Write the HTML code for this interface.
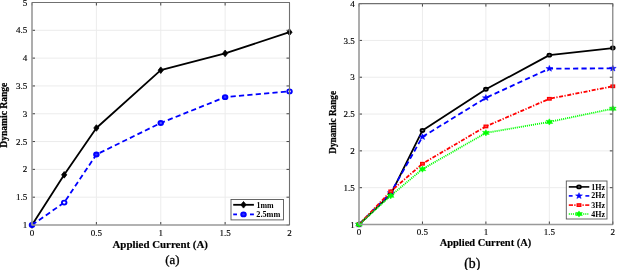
<!DOCTYPE html><html><head><meta charset="utf-8"><style>html,body{margin:0;padding:0;background:#fff;}svg{display:block;will-change:transform;}</style></head><body>
<svg width="617" height="270" viewBox="0 0 617 270" font-family='"Liberation Serif", serif' fill="#000">
<rect width="617" height="270" fill="#fff"/>
<line x1="96.38" y1="2.50" x2="96.38" y2="225.00" stroke="#ececec" stroke-width="1"/>
<line x1="160.75" y1="2.50" x2="160.75" y2="225.00" stroke="#ececec" stroke-width="1"/>
<line x1="225.12" y1="2.50" x2="225.12" y2="225.00" stroke="#ececec" stroke-width="1"/>
<line x1="32.00" y1="197.19" x2="289.50" y2="197.19" stroke="#ececec" stroke-width="1"/>
<line x1="32.00" y1="169.38" x2="289.50" y2="169.38" stroke="#ececec" stroke-width="1"/>
<line x1="32.00" y1="141.56" x2="289.50" y2="141.56" stroke="#ececec" stroke-width="1"/>
<line x1="32.00" y1="113.75" x2="289.50" y2="113.75" stroke="#ececec" stroke-width="1"/>
<line x1="32.00" y1="85.94" x2="289.50" y2="85.94" stroke="#ececec" stroke-width="1"/>
<line x1="32.00" y1="58.12" x2="289.50" y2="58.12" stroke="#ececec" stroke-width="1"/>
<line x1="32.00" y1="30.31" x2="289.50" y2="30.31" stroke="#ececec" stroke-width="1"/>
<polyline points="32.00,225.00 64.19,174.83 96.38,127.99 160.75,70.20 225.12,53.40 289.50,32.20" fill="none" stroke="#000" stroke-width="1.8" stroke-linejoin="round"/>
<polyline points="32.00,225.00 64.19,202.58 96.38,154.52 160.75,122.98 225.12,97.17 289.50,91.39" fill="none" stroke="#00f" stroke-width="1.8" stroke-linejoin="round" stroke-dasharray="5.2 3.2"/>
<path d="M32.00,221.70 L34.60,225.00 L32.00,228.30 L29.40,225.00 Z" fill="#000" stroke="#000" stroke-width="0.8"/>
<path d="M64.19,171.53 L66.79,174.83 L64.19,178.13 L61.59,174.83 Z" fill="#000" stroke="#000" stroke-width="0.8"/>
<path d="M96.38,124.69 L98.97,127.99 L96.38,131.29 L93.78,127.99 Z" fill="#000" stroke="#000" stroke-width="0.8"/>
<path d="M160.75,66.90 L163.35,70.20 L160.75,73.50 L158.15,70.20 Z" fill="#000" stroke="#000" stroke-width="0.8"/>
<path d="M225.12,50.10 L227.72,53.40 L225.12,56.70 L222.53,53.40 Z" fill="#000" stroke="#000" stroke-width="0.8"/>
<path d="M289.50,28.90 L292.10,32.20 L289.50,35.50 L286.90,32.20 Z" fill="#000" stroke="#000" stroke-width="0.8"/>
<ellipse cx="32.00" cy="225.00" rx="2.3" ry="2.0" fill="#44f" stroke="#00f" stroke-width="1.9"/>
<ellipse cx="64.19" cy="202.58" rx="2.3" ry="2.0" fill="#fff" stroke="#00f" stroke-width="1.9"/>
<ellipse cx="96.38" cy="154.52" rx="2.3" ry="2.0" fill="#33f" stroke="#00f" stroke-width="1.9"/>
<ellipse cx="160.75" cy="122.98" rx="2.3" ry="2.0" fill="#55f" stroke="#00f" stroke-width="1.9"/>
<ellipse cx="225.12" cy="97.17" rx="2.3" ry="2.0" fill="#33f" stroke="#00f" stroke-width="1.9"/>
<ellipse cx="289.50" cy="91.39" rx="2.3" ry="2.0" fill="#fff" stroke="#00f" stroke-width="1.9"/>
<line x1="32.00" y1="225.00" x2="32.00" y2="222.00" stroke="#444" stroke-width="1"/>
<line x1="32.00" y1="2.50" x2="32.00" y2="5.50" stroke="#444" stroke-width="1"/>
<line x1="96.38" y1="225.00" x2="96.38" y2="222.00" stroke="#444" stroke-width="1"/>
<line x1="96.38" y1="2.50" x2="96.38" y2="5.50" stroke="#444" stroke-width="1"/>
<line x1="160.75" y1="225.00" x2="160.75" y2="222.00" stroke="#444" stroke-width="1"/>
<line x1="160.75" y1="2.50" x2="160.75" y2="5.50" stroke="#444" stroke-width="1"/>
<line x1="225.12" y1="225.00" x2="225.12" y2="222.00" stroke="#444" stroke-width="1"/>
<line x1="225.12" y1="2.50" x2="225.12" y2="5.50" stroke="#444" stroke-width="1"/>
<line x1="289.50" y1="225.00" x2="289.50" y2="222.00" stroke="#444" stroke-width="1"/>
<line x1="289.50" y1="2.50" x2="289.50" y2="5.50" stroke="#444" stroke-width="1"/>
<line x1="32.00" y1="225.00" x2="35.00" y2="225.00" stroke="#444" stroke-width="1"/>
<line x1="289.50" y1="225.00" x2="286.50" y2="225.00" stroke="#444" stroke-width="1"/>
<line x1="32.00" y1="197.19" x2="35.00" y2="197.19" stroke="#444" stroke-width="1"/>
<line x1="289.50" y1="197.19" x2="286.50" y2="197.19" stroke="#444" stroke-width="1"/>
<line x1="32.00" y1="169.38" x2="35.00" y2="169.38" stroke="#444" stroke-width="1"/>
<line x1="289.50" y1="169.38" x2="286.50" y2="169.38" stroke="#444" stroke-width="1"/>
<line x1="32.00" y1="141.56" x2="35.00" y2="141.56" stroke="#444" stroke-width="1"/>
<line x1="289.50" y1="141.56" x2="286.50" y2="141.56" stroke="#444" stroke-width="1"/>
<line x1="32.00" y1="113.75" x2="35.00" y2="113.75" stroke="#444" stroke-width="1"/>
<line x1="289.50" y1="113.75" x2="286.50" y2="113.75" stroke="#444" stroke-width="1"/>
<line x1="32.00" y1="85.94" x2="35.00" y2="85.94" stroke="#444" stroke-width="1"/>
<line x1="289.50" y1="85.94" x2="286.50" y2="85.94" stroke="#444" stroke-width="1"/>
<line x1="32.00" y1="58.12" x2="35.00" y2="58.12" stroke="#444" stroke-width="1"/>
<line x1="289.50" y1="58.12" x2="286.50" y2="58.12" stroke="#444" stroke-width="1"/>
<line x1="32.00" y1="30.31" x2="35.00" y2="30.31" stroke="#444" stroke-width="1"/>
<line x1="289.50" y1="30.31" x2="286.50" y2="30.31" stroke="#444" stroke-width="1"/>
<line x1="32.00" y1="2.50" x2="35.00" y2="2.50" stroke="#444" stroke-width="1"/>
<line x1="289.50" y1="2.50" x2="286.50" y2="2.50" stroke="#444" stroke-width="1"/>
<line x1="32.00" y1="2.50" x2="32.00" y2="225.00" stroke="#999999" stroke-width="1.6"/>
<line x1="32.00" y1="225.00" x2="289.50" y2="225.00" stroke="#999999" stroke-width="1.6"/>
<line x1="32.00" y1="2.50" x2="289.50" y2="2.50" stroke="#707070" stroke-width="1.1"/>
<line x1="289.50" y1="2.50" x2="289.50" y2="225.00" stroke="#707070" stroke-width="1.1"/>
<text x="27.30" y="228.10" text-anchor="end" font-size="9" stroke="#000" stroke-width="0.15">1</text>
<text x="27.30" y="200.29" text-anchor="end" font-size="9" stroke="#000" stroke-width="0.15">1.5</text>
<text x="27.30" y="172.47" text-anchor="end" font-size="9" stroke="#000" stroke-width="0.15">2</text>
<text x="27.30" y="144.66" text-anchor="end" font-size="9" stroke="#000" stroke-width="0.15">2.5</text>
<text x="27.30" y="116.85" text-anchor="end" font-size="9" stroke="#000" stroke-width="0.15">3</text>
<text x="27.30" y="89.04" text-anchor="end" font-size="9" stroke="#000" stroke-width="0.15">3.5</text>
<text x="27.30" y="61.23" text-anchor="end" font-size="9" stroke="#000" stroke-width="0.15">4</text>
<text x="27.30" y="33.41" text-anchor="end" font-size="9" stroke="#000" stroke-width="0.15">4.5</text>
<text x="27.30" y="5.60" text-anchor="end" font-size="9" stroke="#000" stroke-width="0.15">5</text>
<text x="32.00" y="236.20" text-anchor="middle" font-size="9" stroke="#000" stroke-width="0.15">0</text>
<text x="96.38" y="236.20" text-anchor="middle" font-size="9" stroke="#000" stroke-width="0.15">0.5</text>
<text x="160.75" y="236.20" text-anchor="middle" font-size="9" stroke="#000" stroke-width="0.15">1</text>
<text x="225.12" y="236.20" text-anchor="middle" font-size="9" stroke="#000" stroke-width="0.15">1.5</text>
<text x="289.50" y="236.20" text-anchor="middle" font-size="9" stroke="#000" stroke-width="0.15">2</text>
<line x1="422.45" y1="3.60" x2="422.45" y2="224.50" stroke="#ececec" stroke-width="1"/>
<line x1="485.90" y1="3.60" x2="485.90" y2="224.50" stroke="#ececec" stroke-width="1"/>
<line x1="549.35" y1="3.60" x2="549.35" y2="224.50" stroke="#ececec" stroke-width="1"/>
<line x1="359.00" y1="187.68" x2="612.80" y2="187.68" stroke="#ececec" stroke-width="1"/>
<line x1="359.00" y1="150.87" x2="612.80" y2="150.87" stroke="#ececec" stroke-width="1"/>
<line x1="359.00" y1="114.05" x2="612.80" y2="114.05" stroke="#ececec" stroke-width="1"/>
<line x1="359.00" y1="77.23" x2="612.80" y2="77.23" stroke="#ececec" stroke-width="1"/>
<line x1="359.00" y1="40.42" x2="612.80" y2="40.42" stroke="#ececec" stroke-width="1"/>
<polyline points="359.00,224.50 390.73,194.31 422.45,130.47 485.90,89.31 549.35,55.14 612.80,48.07" fill="none" stroke="#000" stroke-width="1.8" stroke-linejoin="round"/>
<polyline points="359.00,224.50 390.73,192.84 422.45,136.88 485.90,97.85 549.35,68.62 612.80,68.40" fill="none" stroke="#00f" stroke-width="1.8" stroke-linejoin="round" stroke-dasharray="5.2 3.2"/>
<polyline points="359.00,224.50 390.73,191.37 422.45,163.75 485.90,126.42 549.35,98.81 612.80,86.29" fill="none" stroke="#f00" stroke-width="1.8" stroke-linejoin="round" stroke-dasharray="4 1.5 1.2 1.6"/>
<polyline points="359.00,224.50 390.73,195.78 422.45,169.13 485.90,132.90 549.35,121.93 612.80,108.67" fill="none" stroke="#0f0" stroke-width="1.8" stroke-linejoin="round" stroke-dasharray="1.1 0.95"/>
<ellipse cx="359.00" cy="224.50" rx="1.95" ry="1.55" fill="#777" stroke="#000" stroke-width="1.8"/>
<ellipse cx="390.73" cy="194.31" rx="1.95" ry="1.55" fill="#777" stroke="#000" stroke-width="1.8"/>
<ellipse cx="422.45" cy="130.47" rx="1.95" ry="1.55" fill="#777" stroke="#000" stroke-width="1.8"/>
<ellipse cx="485.90" cy="89.31" rx="1.95" ry="1.55" fill="#777" stroke="#000" stroke-width="1.8"/>
<ellipse cx="549.35" cy="55.14" rx="1.95" ry="1.55" fill="#777" stroke="#000" stroke-width="1.8"/>
<ellipse cx="612.80" cy="48.07" rx="1.95" ry="1.55" fill="#777" stroke="#000" stroke-width="1.8"/>
<polygon points="359.00,221.26 359.88,223.41 362.42,223.50 360.43,224.92 361.12,227.12 359.00,225.85 356.88,227.12 357.57,224.92 355.58,223.50 358.12,223.41" fill="#00f" stroke="#00f" stroke-width="0.5"/>
<polygon points="390.73,189.60 391.61,191.75 394.15,191.84 392.15,193.25 392.84,195.46 390.73,194.19 388.61,195.46 389.30,193.25 387.30,191.84 389.84,191.75" fill="#00f" stroke="#00f" stroke-width="0.5"/>
<polygon points="422.45,133.64 423.33,135.78 425.87,135.88 423.88,137.29 424.57,139.50 422.45,138.23 420.33,139.50 421.02,137.29 419.03,135.88 421.57,135.78" fill="#00f" stroke="#00f" stroke-width="0.5"/>
<polygon points="485.90,94.61 486.78,96.76 489.32,96.85 487.33,98.27 488.02,100.47 485.90,99.20 483.78,100.47 484.47,98.27 482.48,96.85 485.02,96.76" fill="#00f" stroke="#00f" stroke-width="0.5"/>
<polygon points="549.35,65.38 550.23,67.53 552.77,67.62 550.78,69.04 551.47,71.24 549.35,69.97 547.23,71.24 547.92,69.04 545.93,67.62 548.47,67.53" fill="#00f" stroke="#00f" stroke-width="0.5"/>
<polygon points="612.80,65.16 613.68,67.31 616.22,67.40 614.23,68.81 614.92,71.02 612.80,69.75 610.68,71.02 611.37,68.81 609.38,67.40 611.92,67.31" fill="#00f" stroke="#00f" stroke-width="0.5"/>
<rect x="357.20" y="223.25" width="3.6" height="2.5" fill="#f44" stroke="#f00" stroke-width="1.3"/>
<rect x="388.93" y="190.12" width="3.6" height="2.5" fill="#f44" stroke="#f00" stroke-width="1.3"/>
<rect x="420.65" y="162.50" width="3.6" height="2.5" fill="#f44" stroke="#f00" stroke-width="1.3"/>
<rect x="484.10" y="125.17" width="3.6" height="2.5" fill="#f44" stroke="#f00" stroke-width="1.3"/>
<rect x="547.55" y="97.56" width="3.6" height="2.5" fill="#f44" stroke="#f00" stroke-width="1.3"/>
<rect x="611.00" y="85.04" width="3.6" height="2.5" fill="#f44" stroke="#f00" stroke-width="1.3"/>
<polygon points="359.00,221.38 360.05,223.05 362.38,222.94 361.10,224.50 362.38,226.06 360.05,225.95 359.00,227.62 357.95,225.95 355.62,226.06 356.90,224.50 355.62,222.94 357.95,223.05" fill="#0f0" stroke="#0f0" stroke-width="0.5"/>
<polygon points="390.73,192.66 391.78,194.33 394.10,194.22 392.83,195.78 394.10,197.34 391.78,197.24 390.73,198.90 389.68,197.24 387.35,197.34 388.62,195.78 387.35,194.22 389.68,194.33" fill="#0f0" stroke="#0f0" stroke-width="0.5"/>
<polygon points="422.45,166.01 423.50,167.67 425.83,167.57 424.55,169.13 425.83,170.69 423.50,170.58 422.45,172.25 421.40,170.58 419.07,170.69 420.35,169.13 419.07,167.57 421.40,167.67" fill="#0f0" stroke="#0f0" stroke-width="0.5"/>
<polygon points="485.90,129.78 486.95,131.45 489.28,131.34 488.00,132.90 489.28,134.46 486.95,134.36 485.90,136.02 484.85,134.36 482.52,134.46 483.80,132.90 482.52,131.34 484.85,131.45" fill="#0f0" stroke="#0f0" stroke-width="0.5"/>
<polygon points="549.35,118.81 550.40,120.47 552.73,120.37 551.45,121.93 552.73,123.49 550.40,123.38 549.35,125.05 548.30,123.38 545.97,123.49 547.25,121.93 545.97,120.37 548.30,120.47" fill="#0f0" stroke="#0f0" stroke-width="0.5"/>
<polygon points="612.80,105.55 613.85,107.22 616.18,107.11 614.90,108.67 616.18,110.23 613.85,110.13 612.80,111.79 611.75,110.13 609.42,110.23 610.70,108.67 609.42,107.11 611.75,107.22" fill="#0f0" stroke="#0f0" stroke-width="0.5"/>
<line x1="359.00" y1="224.50" x2="359.00" y2="221.50" stroke="#444" stroke-width="1"/>
<line x1="359.00" y1="3.60" x2="359.00" y2="6.60" stroke="#444" stroke-width="1"/>
<line x1="422.45" y1="224.50" x2="422.45" y2="221.50" stroke="#444" stroke-width="1"/>
<line x1="422.45" y1="3.60" x2="422.45" y2="6.60" stroke="#444" stroke-width="1"/>
<line x1="485.90" y1="224.50" x2="485.90" y2="221.50" stroke="#444" stroke-width="1"/>
<line x1="485.90" y1="3.60" x2="485.90" y2="6.60" stroke="#444" stroke-width="1"/>
<line x1="549.35" y1="224.50" x2="549.35" y2="221.50" stroke="#444" stroke-width="1"/>
<line x1="549.35" y1="3.60" x2="549.35" y2="6.60" stroke="#444" stroke-width="1"/>
<line x1="612.80" y1="224.50" x2="612.80" y2="221.50" stroke="#444" stroke-width="1"/>
<line x1="612.80" y1="3.60" x2="612.80" y2="6.60" stroke="#444" stroke-width="1"/>
<line x1="359.00" y1="224.50" x2="362.00" y2="224.50" stroke="#444" stroke-width="1"/>
<line x1="612.80" y1="224.50" x2="609.80" y2="224.50" stroke="#444" stroke-width="1"/>
<line x1="359.00" y1="187.68" x2="362.00" y2="187.68" stroke="#444" stroke-width="1"/>
<line x1="612.80" y1="187.68" x2="609.80" y2="187.68" stroke="#444" stroke-width="1"/>
<line x1="359.00" y1="150.87" x2="362.00" y2="150.87" stroke="#444" stroke-width="1"/>
<line x1="612.80" y1="150.87" x2="609.80" y2="150.87" stroke="#444" stroke-width="1"/>
<line x1="359.00" y1="114.05" x2="362.00" y2="114.05" stroke="#444" stroke-width="1"/>
<line x1="612.80" y1="114.05" x2="609.80" y2="114.05" stroke="#444" stroke-width="1"/>
<line x1="359.00" y1="77.23" x2="362.00" y2="77.23" stroke="#444" stroke-width="1"/>
<line x1="612.80" y1="77.23" x2="609.80" y2="77.23" stroke="#444" stroke-width="1"/>
<line x1="359.00" y1="40.42" x2="362.00" y2="40.42" stroke="#444" stroke-width="1"/>
<line x1="612.80" y1="40.42" x2="609.80" y2="40.42" stroke="#444" stroke-width="1"/>
<line x1="359.00" y1="3.60" x2="362.00" y2="3.60" stroke="#444" stroke-width="1"/>
<line x1="612.80" y1="3.60" x2="609.80" y2="3.60" stroke="#444" stroke-width="1"/>
<line x1="359.00" y1="3.60" x2="359.00" y2="224.50" stroke="#999999" stroke-width="1.6"/>
<line x1="359.00" y1="224.50" x2="612.80" y2="224.50" stroke="#999999" stroke-width="1.6"/>
<line x1="359.00" y1="3.60" x2="612.80" y2="3.60" stroke="#707070" stroke-width="1.1"/>
<line x1="612.80" y1="3.60" x2="612.80" y2="224.50" stroke="#707070" stroke-width="1.1"/>
<text x="354.80" y="227.60" text-anchor="end" font-size="9" stroke="#000" stroke-width="0.15">1</text>
<text x="354.80" y="190.78" text-anchor="end" font-size="9" stroke="#000" stroke-width="0.15">1.5</text>
<text x="354.80" y="153.97" text-anchor="end" font-size="9" stroke="#000" stroke-width="0.15">2</text>
<text x="354.80" y="117.15" text-anchor="end" font-size="9" stroke="#000" stroke-width="0.15">2.5</text>
<text x="354.80" y="80.33" text-anchor="end" font-size="9" stroke="#000" stroke-width="0.15">3</text>
<text x="354.80" y="43.52" text-anchor="end" font-size="9" stroke="#000" stroke-width="0.15">3.5</text>
<text x="354.80" y="6.70" text-anchor="end" font-size="9" stroke="#000" stroke-width="0.15">4</text>
<text x="359.00" y="235.20" text-anchor="middle" font-size="9" stroke="#000" stroke-width="0.15">0</text>
<text x="422.45" y="235.20" text-anchor="middle" font-size="9" stroke="#000" stroke-width="0.15">0.5</text>
<text x="485.90" y="235.20" text-anchor="middle" font-size="9" stroke="#000" stroke-width="0.15">1</text>
<text x="549.35" y="235.20" text-anchor="middle" font-size="9" stroke="#000" stroke-width="0.15">1.5</text>
<text x="612.80" y="235.20" text-anchor="middle" font-size="9" stroke="#000" stroke-width="0.15">2</text>
<text x="160.25" y="247.6" text-anchor="middle" font-size="9.8" font-weight="bold" stroke="#000" stroke-width="0.15" textLength="95.5" lengthAdjust="spacingAndGlyphs">Applied Current (A)</text>
<text x="485.5" y="246.4" text-anchor="middle" font-size="9.8" font-weight="bold" stroke="#000" stroke-width="0.15" textLength="91.6" lengthAdjust="spacingAndGlyphs">Applied Current (A)</text>
<text transform="translate(7.0,115.2) rotate(-90)" text-anchor="middle" font-size="9.5" font-weight="bold" stroke="#000" stroke-width="0.25" textLength="65" lengthAdjust="spacingAndGlyphs">Dynamic Range</text>
<text transform="translate(336.4,122.3) rotate(-90)" text-anchor="middle" font-size="9.5" font-weight="bold" stroke="#000" stroke-width="0.25" textLength="62.7" lengthAdjust="spacingAndGlyphs">Dynamic Range</text>
<text x="172.3" y="264.0" text-anchor="middle" font-size="12.8" stroke="#000" stroke-width="0.3">(a)</text>
<text x="472.2" y="268.0" text-anchor="middle" font-size="13.8" stroke="#000" stroke-width="0.3">(b)</text>
<rect x="231.0" y="199.5" width="52.5" height="20.4" fill="#fff" stroke="#555" stroke-width="0.9"/>
<line x1="233.2" y1="204.8" x2="253.9" y2="204.8" stroke="#000" stroke-width="1.8"/>
<path d="M243.50,201.50 L246.10,204.80 L243.50,208.10 L240.90,204.80 Z" fill="#000" stroke="#000" stroke-width="0.8"/>
<line x1="233.2" y1="214.4" x2="237.0" y2="214.4" stroke="#00f" stroke-width="1.8"/>
<line x1="250.0" y1="214.4" x2="253.9" y2="214.4" stroke="#00f" stroke-width="1.8"/>
<ellipse cx="243.50" cy="214.40" rx="2.3" ry="2.0" fill="#33f" stroke="#00f" stroke-width="1.9"/>
<text x="256.6" y="207.7" font-size="7.3" font-weight="bold" textLength="17.1" lengthAdjust="spacingAndGlyphs">1mm</text>
<text x="256.3" y="217.1" font-size="7.3" font-weight="bold" textLength="24" lengthAdjust="spacingAndGlyphs">2.5mm</text>
<rect x="566.3" y="181.0" width="40.7" height="38.0" fill="#fff" stroke="#555" stroke-width="0.9"/>
<line x1="568.8" y1="186.9" x2="589.3" y2="186.9" stroke="#000" stroke-width="1.6"/>
<ellipse cx="579.00" cy="186.90" rx="1.95" ry="1.55" fill="#777" stroke="#000" stroke-width="1.8"/>
<line x1="568.8" y1="195.9" x2="572.6" y2="195.9" stroke="#00f" stroke-width="1.6"/>
<line x1="585.4" y1="195.9" x2="589.3" y2="195.9" stroke="#00f" stroke-width="1.6"/>
<polygon points="579.00,192.66 579.88,194.81 582.42,194.90 580.43,196.32 581.12,198.52 579.00,197.25 576.88,198.52 577.57,196.32 575.58,194.90 578.12,194.81" fill="#00f" stroke="#00f" stroke-width="0.5"/>
<line x1="568.8" y1="205.1" x2="573.0" y2="205.1" stroke="#f00" stroke-width="1.6"/>
<line x1="574.3" y1="205.1" x2="575.5" y2="205.1" stroke="#f00" stroke-width="1.6"/>
<line x1="582.5" y1="205.1" x2="583.7" y2="205.1" stroke="#f00" stroke-width="1.6"/>
<line x1="585.2" y1="205.1" x2="589.3" y2="205.1" stroke="#f00" stroke-width="1.6"/>
<rect x="577.20" y="203.85" width="3.6" height="2.5" fill="#f44" stroke="#f00" stroke-width="1.3"/>
<line x1="568.8" y1="214.0" x2="589.3" y2="214.0" stroke="#0f0" stroke-width="1.6" stroke-dasharray="1.1 0.95"/>
<polygon points="579.00,210.88 580.05,212.55 582.38,212.44 581.10,214.00 582.38,215.56 580.05,215.45 579.00,217.12 577.95,215.45 575.62,215.56 576.90,214.00 575.62,212.44 577.95,212.55" fill="#0f0" stroke="#0f0" stroke-width="0.5"/>
<text x="591.3" y="189.7" font-size="7.4" font-weight="bold" textLength="13.7" lengthAdjust="spacingAndGlyphs">1Hz</text>
<text x="591.3" y="198.4" font-size="7.4" font-weight="bold" textLength="13.7" lengthAdjust="spacingAndGlyphs">2Hz</text>
<text x="591.3" y="207.6" font-size="7.4" font-weight="bold" textLength="13.7" lengthAdjust="spacingAndGlyphs">3Hz</text>
<text x="591.3" y="216.7" font-size="7.4" font-weight="bold" textLength="13.7" lengthAdjust="spacingAndGlyphs">4Hz</text>
</svg></body></html>
